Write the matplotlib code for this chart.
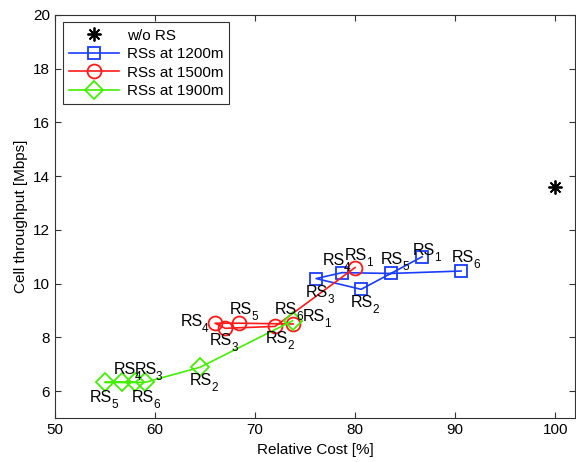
import matplotlib
matplotlib.use('Agg')
import matplotlib.pyplot as plt

plt.rcParams['font.family'] = ['Liberation Sans', 'DejaVu Sans']

# data
wo_rs_cost = [100.0]
wo_rs_tput = [13.6]

cost_1200 = [86.7, 80.6, 76.1, 78.7, 83.6, 90.6]
tput_1200 = [11.0, 9.79, 10.19, 10.41, 10.38, 10.47]

cost_1500 = [80.0, 72.0, 67.0, 66.0, 68.4, 73.8]
tput_1500 = [10.6, 8.41, 8.34, 8.53, 8.53, 8.50]

cost_1900 = [73.75, 64.5, 59.0, 56.7, 55.0, 58.0]
tput_1900 = [8.62, 6.89, 6.33, 6.33, 6.33, 6.33]

rs_index = ['1', '2', '3', '4', '5', '6']

# label offsets in pixels (text left edge / baseline relative to marker)
off_1200 = [(-9, 2), (-10, -18), (-10, -18), (-19, 8), (-10, 9), (-9, 9)]
off_1500 = [(-10, 8), (-9, -17), (-15, -17), (-34, -3), (-9, 9), (-18, 10)]
off_1900 = [(10, 0), (-10, -18), (-10, 8), (-8, 8), (-15, -20), (-3, -20)]

blue = '#1a3cff'
red = '#ff1a1a'
green = '#44ee00'

fig = plt.figure(figsize=(5.76, 4.62), dpi=100)
ax = fig.add_axes([0.0955, 0.095, 0.903, 0.873])

ax.plot(wo_rs_cost, wo_rs_tput, linestyle='none', marker=(8, 2, 0), color='black',
        markersize=10, markeredgewidth=1.3, label='w/o RS')
ax.plot(cost_1200, tput_1200, '-s', color=blue, mfc='none', markersize=9,
        markeredgewidth=1.3, lw=1.2, label='RSs at 1200m')
ax.plot(cost_1500, tput_1500, '-o', color=red, mfc='none', markersize=10,
        markeredgewidth=1.3, lw=1.2, label='RSs at 1500m')
ax.plot(cost_1900, tput_1900, '-D', color=green, mfc='none', markersize=9,
        markeredgewidth=1.3, lw=1.2, label='RSs at 1900m')

# "RS" plus a dropped subscript digit, like the MATLAB text labels
for xs, ys, offs in [(cost_1200, tput_1200, off_1200),
                     (cost_1500, tput_1500, off_1500),
                     (cost_1900, tput_1900, off_1900)]:
    for x, y, idx, (dx, dy) in zip(xs, ys, rs_index, offs):
        ax.annotate('RS', (x, y), xytext=(dx, dy), textcoords='offset pixels',
                    ha='left', va='baseline', fontsize=11.5, color='black')
        ax.annotate(idx, (x, y), xytext=(dx + 21, dy - 6), textcoords='offset pixels',
                    ha='left', va='baseline', fontsize=8.5, color='black')

ax.set_xlim(50, 102)
ax.set_ylim(5, 20)
ax.set_xticks(range(50, 101, 10))
ax.set_yticks(range(6, 21, 2))
ax.tick_params(direction='in', top=True, right=True, labelsize=11, length=4,
               color='#333333')
for s in ax.spines.values():
    s.set_color('#333333')
    s.set_linewidth(0.8)

ax.set_xlabel('Relative Cost [%]', fontsize=11)
ax.set_ylabel('Cell throughput [Mbps]', fontsize=11)

leg = ax.legend(loc='upper left', fontsize=11, handlelength=3.3, fancybox=False,
                edgecolor='#333333', framealpha=1, borderaxespad=0.5,
                labelspacing=0.3, handletextpad=0.5, borderpad=0.4)
leg.get_frame().set_linewidth(0.8)

fig.savefig('out.png', dpi=100)
